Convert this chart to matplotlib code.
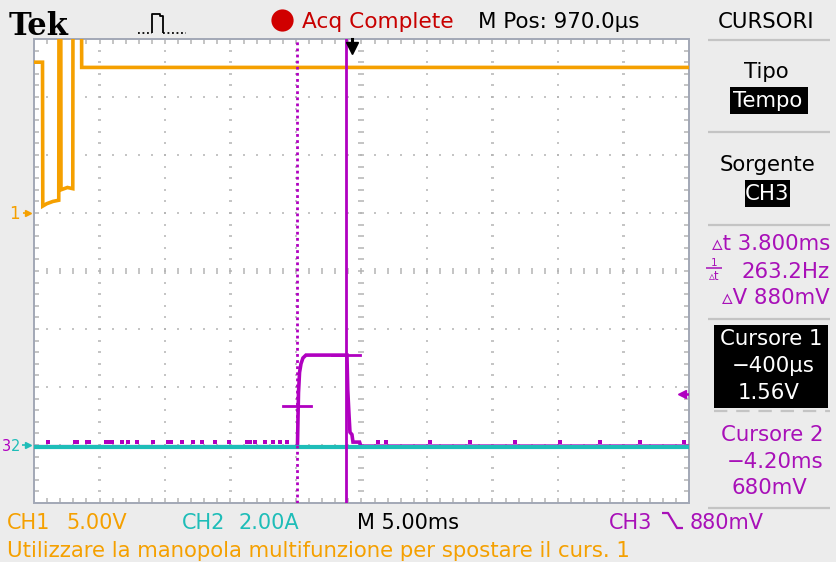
import matplotlib
matplotlib.use('Agg')
import matplotlib.pyplot as plt
from matplotlib.patches import Rectangle
from matplotlib.lines import Line2D
from matplotlib.collections import LineCollection
import numpy as np

# ---------------- data ----------------
t_min, t_max = -24.25, 25.75          # ms shown on screen (10 div x 5 ms)
ch1_scale, ch2_scale, ch3_scale = 5.0, 2.0, 1.0   # per division
ch1_gnd, ch2_gnd, ch3_gnd = 1.0, -3.0, -3.0       # ground marker (div)

ch1_t = [-24.25, -23.60, -23.58, -23.28, -22.80, -22.36, -22.34, -22.21, -22.19,
         -21.70, -21.29, -21.27, -20.63, -20.61, 25.75]
ch1_v = [13.0, 13.0, 0.6, 0.8, 1.0, 1.1, 22.0, 22.0, 2.0,
         2.2, 2.1, 22.0, 22.0, 12.55, 12.55]

ch2_t = [-24.25, 25.75]
ch2_a = [-0.06, -0.06]

ch3_t = [-24.25, -4.14, -4.06, -3.98, -3.87, -3.72, -3.49, -0.36, -0.30,
         -0.20, -0.13, 0.02, 0.10, 0.60, 0.70, 25.75]
ch3_v = [-0.03, -0.03, 0.90, 1.25, 1.40, 1.50, 1.55, 1.55, 0.95,
         0.50, 0.22, 0.18, 0.05, 0.05, -0.02, -0.02]
ch3_noise_t = [-23.18, -21.12, -20.97, -20.20, -20.05, -18.75, -18.52, -18.30,
               -17.53, -17.07, -16.39, -15.17, -14.02, -13.79, -12.95, -12.11,
               -11.43, -10.43, -9.36, -7.99, -7.76, -7.38, -6.62, -6.01, -5.47,
               -4.94, 2.01, 2.62, 5.98, 9.03, 12.47, 15.9, 18.96, 22.0, 25.37]
ch3_noise_v = 0.06

cursor_t = [-0.40, -4.20]     # Cursore 1, Cursore 2 (ms)
cursor_v = [1.56, 0.68]       # V
trig_t = 0.0
trig_level = 0.88

# ---------------- style ----------------
W, H = 837, 562
ORANGE = '#f5a000'
CYAN = '#1ebdb8'
PURPLE = '#b000c0'
PTEXT = '#a810b8'
GRID = '#b4b4b4'
BG = '#ececec'
FAM = ['DejaVu Sans']

fig = plt.figure(figsize=(W / 100, H / 100), dpi=100, facecolor=BG)

def fy(py):
    return 1 - py / H

def txt(x, base, s, color, fs, ha='left', family=None, weight='normal'):
    return fig.text(x / W, fy(base), s, color=color, fontsize=fs, ha=ha,
                    va='baseline', family=family or FAM, weight=weight)

def fline(xs, ys, color, lw=1.5, ls='-'):
    fig.add_artist(Line2D([x / W for x in xs], [fy(y) for y in ys], color=color,
                          lw=lw, ls=ls, solid_capstyle='butt'))

def fbox(x0, y0, x1, y1, color='black'):
    fig.add_artist(Rectangle((x0 / W, fy(y1)), (x1 - x0) / W, (y1 - y0) / H,
                             facecolor=color, edgecolor='none', transform=fig.transFigure))

# ---------------- screen ----------------
L, T, R, B = 34, 39, 689, 503
ax = fig.add_axes([L / W, fy(B), (R - L) / W, (B - T) / H])
ax.set_facecolor('white')
ax.set_xlim(t_min, t_max)
ax.set_ylim(-4, 4)
ax.set_xticks([]); ax.set_yticks([])
for s in ax.spines.values():
    s.set_visible(False)

px_x = (t_max - t_min) / (R - L)     # data units per pixel
px_y = 8.0 / (B - T)
div_ms = (t_max - t_min) / 10
xs_minor = [t_min + k * div_ms / 5 for k in range(1, 50)]
ys_minor = [-4 + k * 0.2 for k in range(1, 40)]

segs = []
def hdash(x, y, lpx):
    segs.append([(x - lpx / 2 * px_x, y), (x + lpx / 2 * px_x, y)])
def vdash(x, y, lpx):
    segs.append([(x, y - lpx / 2 * px_y), (x, y + lpx / 2 * px_y)])

for k in range(1, 10):
    xk = t_min + k * div_ms
    for y in ys_minor:
        hdash(xk, y, 6 if k == 5 else 2.5)
for j in range(-3, 4):
    for x in xs_minor:
        vdash(x, j, 6 if j == 0 else 2)
# border ticks (inside only)
for x in xs_minor:
    segs.append([(x, 4), (x, 4 - 5 * px_y)])
    segs.append([(x, -4), (x, -4 + 5 * px_y)])
for y in ys_minor:
    segs.append([(t_min, y), (t_min + 5 * px_x, y)])
    segs.append([(t_max, y), (t_max - 5 * px_x, y)])
ax.add_collection(LineCollection(segs, colors=GRID, linewidths=1.1, zorder=1))
ax.add_patch(Rectangle((0, 0), 1, 1, transform=ax.transAxes, fill=False,
                       edgecolor='#a2a8b6', lw=1.4, zorder=2, clip_on=False))

# traces
ch1_d = [v / ch1_scale + ch1_gnd for v in ch1_v]
ch2_d = [a / ch2_scale + ch2_gnd for a in ch2_a]
ch3_d = [v / ch3_scale + ch3_gnd for v in ch3_v]
ax.plot(ch3_noise_t, [ch3_noise_v / ch3_scale + ch3_gnd] * len(ch3_noise_t), ls='none',
        marker='s', ms=2.4, color=PURPLE, mew=0, zorder=3)
ax.plot(ch3_t, ch3_d, color=PURPLE, lw=2.6, zorder=3, solid_joinstyle='miter')
ax.plot(ch2_t, ch2_d, color=CYAN, lw=3.0, zorder=4)
ax.plot(ch1_t, ch1_d, color=ORANGE, lw=2.6, zorder=5, solid_joinstyle='miter')

# cursors
half = 14 * px_x
ax.axvline(cursor_t[0], color=PURPLE, lw=2.0, zorder=6)
ax.axvline(cursor_t[1], color=PURPLE, lw=2.0, ls=(0, (1, 1.2)), zorder=6)
for ct, cv in zip(cursor_t, cursor_v):
    cd = cv / ch3_scale + ch3_gnd
    ax.plot([ct - half, ct + half], [cd, cd], color=PURPLE, lw=2.0, zorder=6)

# trigger marker top
ax.plot([trig_t, trig_t], [4.0, 4 - 9 * px_y], color='black', lw=2.2, zorder=7, clip_on=False)
ax.plot([trig_t], [4 - 9 * px_y], marker='v', ms=8, color='black', zorder=7, clip_on=False)
# trigger level on right
tl = trig_level / ch3_scale + ch3_gnd
ax.plot([t_max - 7 * px_x], [tl], marker='<', ms=6, color=PURPLE, zorder=7, clip_on=False)
ax.plot([t_max - 8 * px_x, t_max - 1 * px_x], [tl, tl], color=PURPLE, lw=1.8, zorder=7)

# ground markers (left, outside)
def gy(d):
    return T + (4 - d) / 8 * (B - T)
txt(9, gy(ch1_gnd) + 6, '1', ORANGE, 12)
fig.add_artist(Line2D([28 / W], [fy(gy(ch1_gnd))], marker='>', ms=5, color=ORANGE))
fline([23, 30], [gy(ch1_gnd)] * 2, ORANGE, lw=1.2)
txt(2, gy(ch3_gnd) + 6, '3', PURPLE, 10.5)
txt(11, gy(ch2_gnd) + 6, '2', CYAN, 10.5)
fig.add_artist(Line2D([28 / W], [fy(gy(ch2_gnd))], marker='>', ms=5, color=CYAN))
fline([22, 30], [gy(ch2_gnd)] * 2, CYAN, lw=1.2)

# ---------------- top bar ----------------
txt(9, 35, 'Tek', 'black', 22, family=['DejaVu Serif'], weight='bold')
fline([138, 152], [33, 33], 'black', lw=1.3, ls=(0, (1, 1.5)))
fline([152, 152, 160, 160, 163, 163], [33, 14, 14, 16, 16, 33], 'black', lw=1.3)
fline([163, 186], [33, 33], 'black', lw=1.3, ls=(0, (1, 1.5)))
fig.add_artist(Line2D([282 / W], [fy(20)], marker='o', ms=16, color='#d00000', mew=0))
txt(302, 28, 'Acq Complete', '#c80000', 15.6)
txt(478, 28, 'M Pos: 970.0µs', 'black', 15.4)

# ---------------- right panel ----------------
RC = 766
RFS = 15.3
txt(RC, 28, 'CURSORI', 'black', RFS, ha='center')
for yy in (40, 132, 225, 319, 508):
    fline([708, 830], [yy, yy], '#c4c4c4', lw=1.6)
fline([714, 830], [411, 411], '#c4c4c4', lw=1.6, ls=(0, (6, 4)))
txt(RC, 78, 'Tipo', 'black', RFS, ha='center')
fbox(730, 87, 808, 114)
txt(RC + 2, 107, 'Tempo', 'white', RFS, ha='center')
txt(RC + 2, 171, 'Sorgente', 'black', RFS, ha='center')
fbox(745, 180, 790, 207)
txt(767.5, 200, 'CH3', 'white', RFS, ha='center')
txt(830, 250, '▵t 3.800ms', PTEXT, RFS, ha='right')
txt(714, 266, '1', PTEXT, 7.5, ha='center')
fline([706, 722], [268, 268], PTEXT, lw=1.1)
txt(714, 280, '▵t', PTEXT, 8.5, ha='center')
txt(830, 278, '263.2Hz', PTEXT, RFS, ha='right')
txt(830, 304, '▵V 880mV', PTEXT, RFS, ha='right')
fbox(714, 325, 828, 408)
txt(771, 345, 'Cursore 1', 'white', RFS, ha='center')
txt(773, 372, '−400µs', 'white', RFS, ha='center')
txt(769, 399, '1.56V', 'white', RFS, ha='center')
txt(772, 441, 'Cursore 2', PTEXT, RFS, ha='center')
txt(775, 468, '−4.20ms', PTEXT, RFS, ha='center')
txt(769, 494, '680mV', PTEXT, RFS, ha='center')

# ---------------- bottom bar ----------------
BFS = 15.0
txt(7, 529, 'CH1', ORANGE, BFS)
txt(66, 529, '5.00V', ORANGE, BFS)
txt(182, 529, 'CH2', CYAN, BFS)
txt(239, 529, '2.00A', CYAN, BFS)
txt(357, 529, 'M 5.00ms', 'black', BFS)
txt(609, 529, 'CH3', PTEXT, BFS)
fline([662, 668, 677, 683], [513, 513, 528, 528], PTEXT, lw=1.6)
txt(690, 529, '880mV', PTEXT, BFS)
txt(7, 557, 'Utilizzare la manopola multifunzione per spostare il curs. 1', ORANGE, 15.3)

fig.savefig('out.png', dpi=100, facecolor=BG)
